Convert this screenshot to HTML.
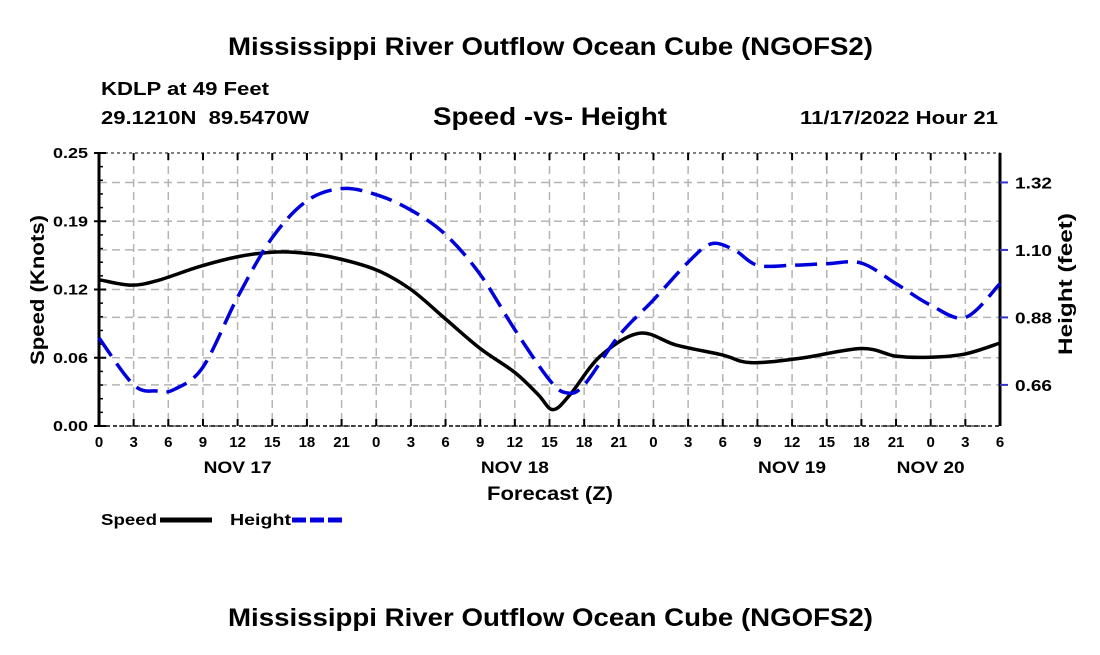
<!DOCTYPE html>
<html><head><meta charset="utf-8"><style>
body{margin:0;background:#fff;width:1100px;height:650px;overflow:hidden}
text{font-family:"Liberation Sans",Arial,sans-serif;font-weight:bold}
</style></head><body>
<svg id="chart" width="1100" height="650">
<text x="228" y="55" font-size="25" textLength="645" lengthAdjust="spacingAndGlyphs">Mississippi River Outflow Ocean Cube (NGOFS2)</text>
<text x="101" y="95" font-size="18" textLength="168" lengthAdjust="spacingAndGlyphs">KDLP at 49 Feet</text>
<text x="101" y="124" font-size="18" textLength="208" lengthAdjust="spacingAndGlyphs" xml:space="preserve">29.1210N  89.5470W</text>
<text x="433" y="125" font-size="25" textLength="234" lengthAdjust="spacingAndGlyphs">Speed -vs- Height</text>
<text x="800" y="124" font-size="18" textLength="198" lengthAdjust="spacingAndGlyphs">11/17/2022 Hour 21</text>
<text x="228" y="626" font-size="25" textLength="645" lengthAdjust="spacingAndGlyphs">Mississippi River Outflow Ocean Cube (NGOFS2)</text>
<g id="grid"></g><g id="axes"></g><g id="series"></g>
<text transform="translate(44,365) rotate(-90)" font-size="19" textLength="150" lengthAdjust="spacingAndGlyphs">Speed (Knots)</text>
<text transform="translate(1072,355) rotate(-90)" font-size="19" textLength="142" lengthAdjust="spacingAndGlyphs">Height (feet)</text>
<text x="487" y="500" font-size="19" textLength="126" lengthAdjust="spacingAndGlyphs">Forecast (Z)</text>
<g>
<text x="101" y="525" font-size="16" textLength="56" lengthAdjust="spacingAndGlyphs">Speed</text>
<line x1="160" y1="520" x2="212" y2="520" stroke="#000" stroke-width="5"/>
<text x="230" y="525" font-size="16" textLength="61" lengthAdjust="spacingAndGlyphs">Height</text>
<line x1="292" y1="520" x2="343" y2="520" stroke="#0000dd" stroke-width="5" stroke-dasharray="14,4"/>
</g>
</svg>
<script>
const speedHours=[0,2.7,5,8.7,12,14.8,17,20,24,27,30,33,36,38,39.3,40.8,43.4,46.8,50,54,56.4,60.7,66,69,72,75,78];
const speedValues=[0.134,0.129,0.133,0.146,0.155,0.159,0.159,0.155,0.143,0.125,0.098,0.071,0.049,0.029,0.015,0.029,0.064,0.085,0.074,0.065,0.058,0.062,0.071,0.064,0.063,0.066,0.076];
const heightHours=[0,3,5,6.5,9,12,15,18,21,24,27,30,33,36,39,40.5,42,45,48,51,53,55,57,60,63,66,69,72,75,78];
const heightValues=[0.813,0.66,0.64,0.645,0.718,0.946,1.14,1.26,1.30,1.28,1.23,1.15,1.02,0.84,0.676,0.634,0.66,0.82,0.937,1.06,1.12,1.10,1.05,1.05,1.055,1.057,0.99,0.92,0.88,0.99];
const xTickLabels=["0","3","6","9","12","15","18","21","0","3","6","9","12","15","18","21","0","3","6","9","12","15","18","21","0","3","6"];
const dayLabels=["NOV 17","NOV 18","NOV 19","NOV 20"];
const dayHours=[12,36,60,72];
const speedTicks=[0,0.0625,0.125,0.1875,0.25];
const speedTickLabels=["0.00","0.06","0.12","0.19","0.25"];
const heightTicks=[0.66,0.88,1.10,1.32];
const heightTickLabels=["0.66","0.88","1.10","1.32"];
const L=99,R=1000,T=153,B=426,XMAX=78,HMIN=0.526,HMAX=1.416;
const X=h=>L+(R-L)*h/XMAX, YS=v=>B-(B-T)*v/0.25, YH=v=>B-(B-T)*(v-HMIN)/(HMAX-HMIN);
const NS="http://www.w3.org/2000/svg";
function mk(tag,attrs,parent){const e=document.createElementNS(NS,tag);for(const k in attrs)e.setAttribute(k,attrs[k]);parent.appendChild(e);return e;}
const grid=document.getElementById('grid'),axes=document.getElementById('axes'),series=document.getElementById('series');
const gs={stroke:"#b4b4b4","stroke-width":1.5,"stroke-dasharray":"8,5"};
for(let i=1;i<xTickLabels.length-1;i++){const x=X(i*3);const l=mk('line',Object.assign({x1:x,x2:x,y1:T,y2:B},gs),grid);}
speedTicks.slice(1,-1).forEach(v=>{const l=mk('line',Object.assign({x1:L,x2:R,y1:YS(v),y2:YS(v)},gs),grid);});
heightTicks.forEach(v=>{const l=mk('line',Object.assign({x1:L,x2:R,y1:YH(v),y2:YH(v)},gs),grid);});
const fr=mk('rect',{x:L,y:T,width:R-L,height:B-T,fill:"none",stroke:"#000","stroke-width":1,"stroke-dasharray":"3,3"},axes);

const la=mk('line',{x1:L,x2:L,y1:T,y2:B,stroke:"#000","stroke-width":3},axes);
const ra=mk('line',{x1:R,x2:R,y1:T,y2:B,stroke:"#000","stroke-width":3},axes);
const ba=mk('line',{x1:L,x2:R,y1:B,y2:B,stroke:"#000","stroke-width":1.5,"stroke-dasharray":"4,3"},axes);
xTickLabels.forEach((t,i)=>{const x=X(i*3);
 mk('line',{x1:x,x2:x,y1:B,y2:B-7,stroke:"#000","stroke-width":2},axes);mk('line',{x1:x,x2:x,y1:T,y2:T+7,stroke:"#000","stroke-width":2},axes);
 const tx=mk('text',{x:x,y:B+21,"font-size":15,"text-anchor":"middle"},axes);tx.textContent=t;
 });
dayLabels.forEach((d,i)=>{const tx=mk('text',{x:X(dayHours[i]),y:473,"font-size":17,"text-anchor":"middle",textLength:68,lengthAdjust:"spacingAndGlyphs"},axes);tx.textContent=d;
 });
for(let v=0;v<=0.25001;v+=0.25/20){mk('line',{x1:L,x2:L+4,y1:YS(v),y2:YS(v),stroke:"#000","stroke-width":1.5},axes);}
speedTicks.forEach((v,i)=>{mk('line',{x1:L-5,x2:L+7,y1:YS(v),y2:YS(v),stroke:"#000","stroke-width":2},axes);
 const tx=mk('text',{x:L-11,y:YS(v)+5,"font-size":15,"text-anchor":"end",textLength:35,lengthAdjust:"spacingAndGlyphs"},axes);tx.textContent=speedTickLabels[i];
 });
heightTicks.forEach((v,i)=>{mk('line',{x1:R,x2:R+8,y1:YH(v),y2:YH(v),stroke:"#3333cc","stroke-width":2},axes);
 const tx=mk('text',{x:R+15,y:YH(v)+6,"font-size":16,textLength:37,lengthAdjust:"spacingAndGlyphs"},axes);tx.textContent=heightTickLabels[i];
 });
function smooth(pts){let d=`M${pts[0][0]},${pts[0][1]}`;for(let i=0;i<pts.length-1;i++){const p0=pts[i-1]||pts[i],p1=pts[i],p2=pts[i+1],p3=pts[i+2]||p2;
 d+=` C${p1[0]+(p2[0]-p0[0])/6},${p1[1]+(p2[1]-p0[1])/6} ${p2[0]-(p3[0]-p1[0])/6},${p2[1]-(p3[1]-p1[1])/6} ${p2[0]},${p2[1]}`;}return d;}
const sp=mk('path',{d:smooth(speedHours.map((h,i)=>[X(h),YS(speedValues[i])])),fill:"none",stroke:"#000","stroke-width":3.5},series);

const hp=mk('path',{d:smooth(heightHours.map((h,i)=>[X(h),YH(heightValues[i])])),fill:"none",stroke:"#0000dd","stroke-width":3.5,"stroke-dasharray":"22,9"},series);

</script>
</body></html>
